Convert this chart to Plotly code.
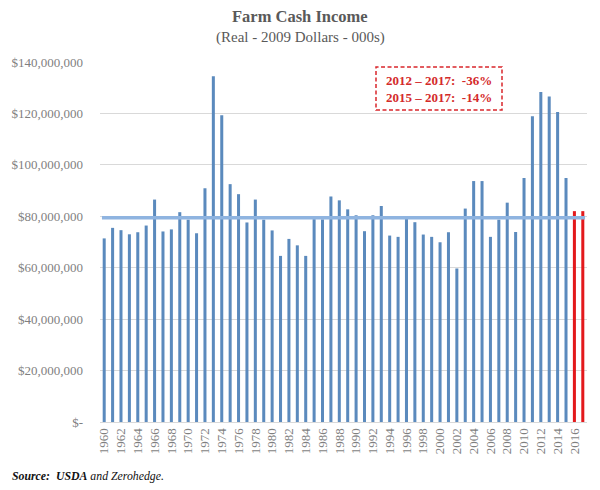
import plotly.graph_objects as go

years = list(range(1960, 2018))
income = [
    71.4, 75.5, 74.6, 73.0, 73.8, 76.4, 86.5, 74.1, 74.9, 81.6,
    78.7, 73.4, 90.9, 134.5, 119.3, 92.5, 88.6, 77.6, 86.5, 78.7,
    74.5, 64.6, 71.2, 68.7, 64.6, 78.9, 78.8, 87.7, 86.2, 82.7,
    80.4, 74.2, 80.4, 84.0, 72.5, 72.0, 79.0, 77.7, 72.9, 72.0,
    69.9, 73.8, 59.7, 83.0, 93.7, 93.7, 72.0, 78.7, 85.3, 73.9,
    94.9, 118.9, 128.3, 126.6, 120.6, 94.9, 82.0, 82.0,
]
income = [v * 1e6 for v in income]
forecast_years = [2016, 2017]
average_value = 79.4e6

ytick_vals = [0, 20e6, 40e6, 60e6, 80e6, 100e6, 120e6, 140e6]
ytick_text = ["$-", "$20,000,000", "$40,000,000", "$60,000,000", "$80,000,000",
              "$100,000,000", "$120,000,000", "$140,000,000"]

box_lines = ["2012 \u2013 2017:\u00a0 -36%", "2015 \u2013 2017:\u00a0 -14%"]

BLUE = "#5b8abd"
RED = "#e3191c"
colors = [RED if y in forecast_years else BLUE for y in years]

# plot area in page pixels: x 100..587, y 62..422 (page body has 8px margin)
PX0, PW, PY1, PH = 100, 487, 421.7, 359.7


def px(x):
    return (x - PX0) / PW


def py(y):
    return (PY1 - y) / PH


fig = go.Figure()
fig.add_trace(go.Bar(x=years, y=income, marker=dict(color=colors, line=dict(width=0)),
                     width=0.36, hoverinfo="x+y"))

fig.add_shape(type="line", xref="paper", yref="y", x0=0.004, x1=0.996,
              y0=average_value, y1=average_value,
              line=dict(color="#8fb4e0", width=3.5), layer="above")

fig.add_shape(type="rect", xref="paper", yref="paper", x0=px(376), x1=px(502),
              y0=py(110), y1=py(67), line=dict(color="#d9262b", width=1.5, dash="4px,2.5px"),
              fillcolor="white", layer="above")

for i, t in enumerate(box_lines):
    fig.add_annotation(text="<b>" + t + "</b>", xref="paper", yref="paper",
                       x=px(439), y=py(80 + 17 * i), showarrow=False,
                       xanchor="center", yanchor="middle",
                       font=dict(family="Liberation Serif", size=13, color="#d42a2a"))

fig.add_annotation(text="<b>Farm Cash Income</b>", xref="paper", yref="paper",
                   x=px(300), y=py(17), showarrow=False,
                   xanchor="center", yanchor="middle",
                   font=dict(family="Liberation Serif", size=16.5, color="#595959"))
fig.add_annotation(text="(Real - 2009 Dollars - 000s)", xref="paper", yref="paper",
                   x=px(300), y=py(38), showarrow=False,
                   xanchor="center", yanchor="middle",
                   font=dict(family="Liberation Serif", size=15, color="#595959"))
fig.add_annotation(text="<b><i>Source:\u00a0 USDA</i></b><i> and Zerohedge.</i>",
                   xref="paper", yref="paper",
                   x=px(10), y=py(476), showarrow=False,
                   xanchor="left", yanchor="middle",
                   font=dict(family="Liberation Serif", size=11.8, color="#111111"))

fig.update_layout(
    width=592, height=482,
    margin=dict(l=92, r=13, t=54, b=68, autoexpand=False),
    paper_bgcolor="white", plot_bgcolor="white",
    showlegend=False,
    font=dict(family="Liberation Serif", size=13, color="#7f7f7f"),
    xaxis=dict(range=[1959.5, 2017.5], tickmode="linear", tick0=1960, dtick=2,
               tickangle=-90, showgrid=False, showline=True, linecolor="#d9d9d9",
               linewidth=1, ticks="", zeroline=False, automargin=False,
               tickfont=dict(family="Liberation Serif", size=13, color="#7f7f7f")),
    yaxis=dict(range=[0, 140e6], tickmode="array", tickvals=ytick_vals, ticktext=ytick_text,
               showgrid=True, gridcolor="#d9d9d9", gridwidth=1, zeroline=False,
               ticks="", ticklen=0, ticklabelstandoff=16, automargin=False,
               tickfont=dict(family="Liberation Serif", size=13, color="#7f7f7f")),
)

fig.write_html("out.html")
